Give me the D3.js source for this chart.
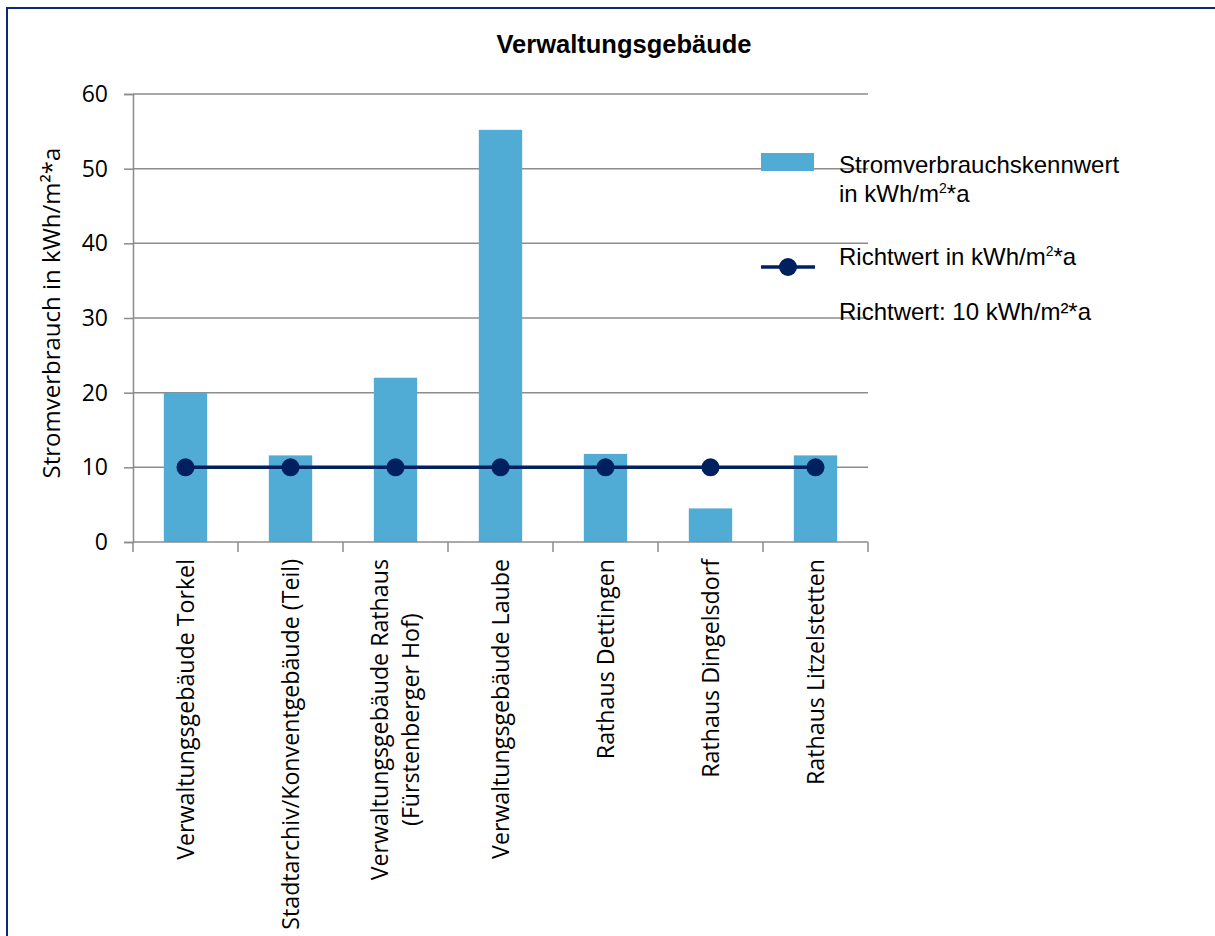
<!DOCTYPE html>
<html>
<head>
<meta charset="utf-8">
<script src="https://cdn.jsdelivr.net/npm/d3@7"></script>
<style>
  html, body { margin: 0; padding: 0; background: #fff; }
  svg { display: block; }
</style>
</head>
<body>
<svg id="chart" width="1215" height="936"></svg>
<script>
// Building names (multi-line names split on "\n")
const categories = [
  "Verwaltungsgebäude Torkel",
  "Stadtarchiv/Konventgebäude (Teil)",
  "Verwaltungsgebäude Rathaus\n(Fürstenberger Hof)",
  "Verwaltungsgebäude Laube",
  "Rathaus Dettingen",
  "Rathaus Dingelsdorf",
  "Rathaus Litzelstetten"
];
// Electricity consumption index per building, kWh/m²*a
const consumption = [20.0, 11.6, 22.0, 55.2, 11.8, 4.5, 11.6];
// Target value per building, kWh/m²*a
const targetValues = [10, 10, 10, 10, 10, 10, 10];
const yTicks = [0, 10, 20, 30, 40, 50, 60];

const svg = d3.select("#chart");
const plot = { left: 133, right: 868, top: 94, bottom: 542 };

const barColor = "#50acd4";
const lineColor = "#002060";
const gridColor = "#8c8c8c";
const sansUI = "'Open Sans', 'Noto Sans', sans-serif";
const sansArial = "'Liberation Sans', Arial, sans-serif";

// Outer frame
svg.append("rect")
  .attr("x", 7).attr("y", 8)
  .attr("width", 1212).attr("height", 940)
  .attr("fill", "#fff")
  .attr("stroke", "#0a2a7a").attr("stroke-width", 2);

const x = d3.scaleBand().domain(categories).range([plot.left, plot.right]).padding(0);
const y = d3.scaleLinear().domain([0, 60]).range([plot.bottom, plot.top]);
const barW = x.bandwidth() * 0.413;

// Title
svg.append("text")
  .attr("x", 624).attr("y", 53)
  .attr("text-anchor", "middle")
  .attr("font-family", sansArial)
  .attr("font-weight", "bold")
  .attr("font-size", 25.5)
  .text("Verwaltungsgebäude");

// Horizontal gridlines
svg.append("g").selectAll("line")
  .data(yTicks.filter(d => d > 0))
  .join("line")
  .attr("x1", plot.left).attr("x2", plot.right)
  .attr("y1", d => y(d)).attr("y2", d => y(d))
  .attr("stroke", gridColor).attr("stroke-width", 1.5);

// Y axis
const yAxis = svg.append("g")
  .attr("transform", `translate(${plot.left},0)`)
  .call(d3.axisLeft(y).tickValues(yTicks).tickSize(9).tickPadding(16).tickFormat(d3.format("d")));
yAxis.select(".domain").attr("stroke", gridColor).attr("stroke-width", 1.5);
yAxis.selectAll(".tick line").attr("stroke", gridColor).attr("stroke-width", 1.5);
yAxis.selectAll(".tick text")
  .attr("font-family", sansUI).attr("font-size", 23).attr("fill", "#000");

// Y axis title
svg.append("text")
  .attr("transform", "translate(60,313) rotate(-90)")
  .attr("text-anchor", "middle")
  .attr("font-family", sansUI)
  .attr("font-size", 24)
  .text("Stromverbrauch in kWh/m²*a");

// Bars
svg.append("g").selectAll("rect")
  .data(consumption)
  .join("rect")
  .attr("x", (d, i) => x(categories[i]) + x.bandwidth() / 2 - barW / 2)
  .attr("width", barW)
  .attr("y", d => y(d))
  .attr("height", d => y(0) - y(d))
  .attr("fill", barColor);

// X axis line and category boundary ticks
svg.append("line")
  .attr("x1", plot.left).attr("x2", plot.right)
  .attr("y1", plot.bottom).attr("y2", plot.bottom)
  .attr("stroke", gridColor).attr("stroke-width", 1.5);
const bounds = categories.map(c => x(c)).concat([plot.right]);
svg.append("g").selectAll("line")
  .data(bounds)
  .join("line")
  .attr("x1", d => d).attr("x2", d => d)
  .attr("y1", plot.bottom).attr("y2", plot.bottom + 10)
  .attr("stroke", gridColor).attr("stroke-width", 1.5);

// Category labels, rotated; the end of each label sits just below the axis
const labels = svg.append("g").selectAll("text")
  .data(categories)
  .join("text")
  .attr("transform", d => `translate(${x(d) + x.bandwidth() / 2},559) rotate(-90)`)
  .attr("font-family", sansUI)
  .attr("font-size", 23.2)
  .attr("fill", "#000");
labels.each(function(d) {
  const lines = d.split("\n");
  const t = d3.select(this);
  const lh = 1.33;
  const start = -((lines.length - 1) * lh) / 2 + 0.35;
  lines.forEach((ln, k) => {
    t.append("tspan")
      .attr("x", 0)
      .attr("dy", k === 0 ? `${start}em` : `${lh}em`)
      .text(ln);
  });
  // center shorter lines within the longest one
  const tspans = t.selectAll("tspan").nodes();
  const widths = tspans.map(n => n.getComputedTextLength());
  const maxW = d3.max(widths);
  tspans.forEach((n, k) => {
    d3.select(n).attr("x", -maxW + (maxW - widths[k]) / 2);
  });
});

// Target line with markers
const line = d3.line()
  .x((d, i) => x(categories[i]) + x.bandwidth() / 2)
  .y(d => y(d));
svg.append("path")
  .datum(targetValues)
  .attr("d", line)
  .attr("fill", "none")
  .attr("stroke", lineColor)
  .attr("stroke-width", 3.5);
svg.append("g").selectAll("circle")
  .data(targetValues)
  .join("circle")
  .attr("cx", (d, i) => x(categories[i]) + x.bandwidth() / 2)
  .attr("cy", d => y(d))
  .attr("r", 9)
  .attr("fill", lineColor);

// Legend
const lg = svg.append("g").attr("font-family", sansArial).attr("font-size", 24).attr("fill", "#000");
lg.append("rect")
  .attr("x", 761).attr("y", 153).attr("width", 53).attr("height", 18)
  .attr("fill", barColor);
lg.append("text").attr("x", 839).attr("y", 173).text("Stromverbrauchskennwert");
const t1b = lg.append("text").attr("x", 839).attr("y", 201.5);
t1b.append("tspan").text("in kWh/m");
t1b.append("tspan").attr("font-size", 14).attr("dy", -9).text("2");
t1b.append("tspan").attr("dy", 9).text("*a");

lg.append("line")
  .attr("x1", 761).attr("x2", 815).attr("y1", 267).attr("y2", 267)
  .attr("stroke", lineColor).attr("stroke-width", 3.5);
lg.append("circle").attr("cx", 788).attr("cy", 267).attr("r", 9).attr("fill", lineColor);
const t2 = lg.append("text").attr("x", 839).attr("y", 265);
t2.append("tspan").text("Richtwert in kWh/m");
t2.append("tspan").attr("font-size", 14).attr("dy", -9).text("2");
t2.append("tspan").attr("dy", 9).text("*a");

lg.append("text").attr("x", 839).attr("y", 320).text("Richtwert: 10 kWh/m²*a");
</script>
</body>
</html>
